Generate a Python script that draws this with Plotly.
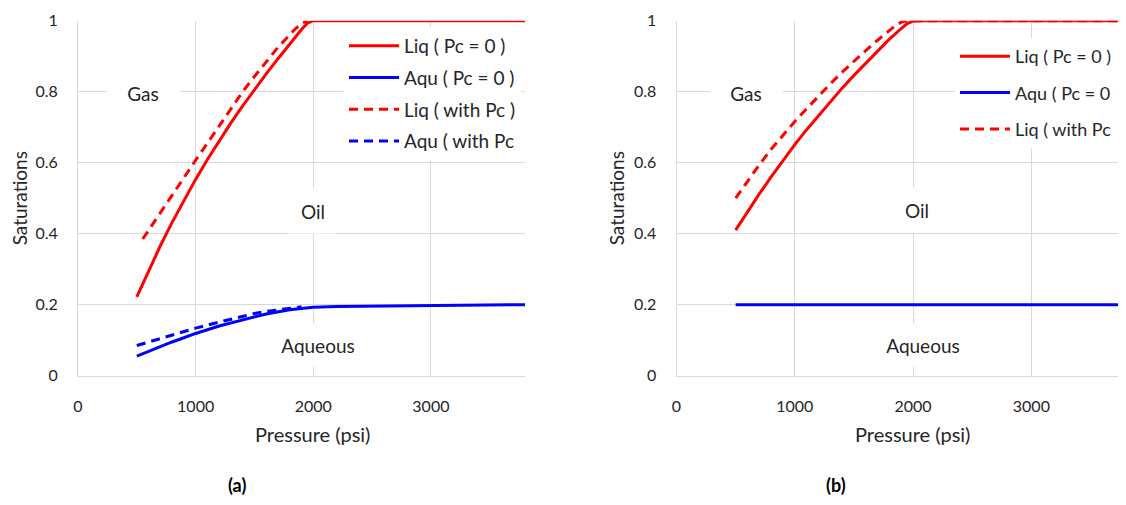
import plotly.graph_objects as go

# ---------------- data ----------------
# Panel (a)
p_liq_a = [500, 600, 700, 800, 900, 1000, 1100, 1200, 1300, 1400, 1500, 1600, 1700, 1800, 1900, 1950, 2000, 2100, 2500, 3000, 3500, 3800]
s_liq_a = [0.222, 0.296, 0.366, 0.432, 0.494, 0.553, 0.609, 0.662, 0.712, 0.760, 0.806, 0.850, 0.893, 0.935, 0.975, 0.993, 1.0, 1.0, 1.0, 1.0, 1.0, 1.0]

p_aqu_a = [500, 600, 700, 800, 900, 1000, 1200, 1400, 1500, 1600, 1800, 2000, 2200, 2500, 3000, 3500, 3800]
s_aqu_a = [0.055, 0.069, 0.082, 0.095, 0.107, 0.119, 0.140, 0.158, 0.166, 0.174, 0.186, 0.193, 0.195, 0.196, 0.198, 0.199, 0.2]

p_liqpc_a = [550, 600, 700, 800, 900, 1000, 1100, 1200, 1300, 1400, 1500, 1600, 1700, 1800, 1850, 1900, 1950]
s_liqpc_a = [0.385, 0.41, 0.46, 0.51, 0.56, 0.607, 0.655, 0.703, 0.752, 0.80, 0.843, 0.885, 0.925, 0.96, 0.978, 0.992, 1.0]

p_aqupc_a = [500, 600, 700, 800, 900, 1000, 1200, 1400, 1500, 1600, 1800, 1900]
s_aqupc_a = [0.085, 0.095, 0.105, 0.115, 0.124, 0.134, 0.151, 0.168, 0.175, 0.181, 0.191, 0.194]

# Panel (b)
p_liq_b = [500, 600, 700, 800, 900, 1000, 1100, 1200, 1300, 1400, 1500, 1600, 1700, 1800, 1900, 1950, 2000, 2100, 2500, 3000, 3500, 3800]
s_liq_b = [0.41, 0.462, 0.512, 0.56, 0.607, 0.651, 0.693, 0.733, 0.772, 0.81, 0.846, 0.881, 0.915, 0.948, 0.978, 0.992, 0.999, 1.0, 1.0, 1.0, 1.0, 1.0]

p_aqu_b = [500, 1000, 2000, 3000, 3800]
s_aqu_b = [0.2, 0.2, 0.2, 0.2, 0.2]

p_liqpc_b = [500, 600, 700, 800, 900, 1000, 1100, 1200, 1300, 1400, 1500, 1600, 1700, 1800, 1850, 1900, 1950, 2000, 2500, 3000, 3500, 3800]
s_liqpc_b = [0.500, 0.548, 0.594, 0.638, 0.678, 0.716, 0.752, 0.788, 0.822, 0.855, 0.886, 0.916, 0.945, 0.973, 0.986, 0.996, 1.0, 1.0, 1.0, 1.0, 1.0, 1.0]

names_a = ["Liq ( Pc = 0 )", "Aqu ( Pc = 0 )", "Liq ( with Pc )", "Aqu ( with Pc"]
names_b = ["Liq ( Pc = 0 )", "Aqu ( Pc = 0", "Liq ( with Pc"]

x_ticks = [0, 1000, 2000, 3000]
y_ticks = [0, 0.2, 0.4, 0.6, 0.8, 1.0]
y_ticklabels = ["0", "0.2", "0.4", "0.6", "0.8", "1"]

# ---------------- style ----------------
RED = "#FF0000"
BLUE = "#0000FF"
LW = 3
DASH = "9px,6px"
FONT = "Lato"
TXT = "#262626"
GRID = "#d9d9d9"

fig = go.Figure()

def add(x, y, name, color, dash, xa, ya, legend):
    fig.add_trace(go.Scatter(
        x=x, y=y, name=name, mode="lines",
        line=dict(color=color, width=LW, dash=dash),
        xaxis=xa, yaxis=ya, legend=legend, legendgroup=legend + name,
    ))

add(p_liq_a, s_liq_a, names_a[0], RED, "solid", "x", "y", "legend")
add(p_aqu_a, s_aqu_a, names_a[1], BLUE, "solid", "x", "y", "legend")
add(p_liqpc_a, s_liqpc_a, names_a[2], RED, DASH, "x", "y", "legend")
add(p_aqupc_a, s_aqupc_a, names_a[3], BLUE, DASH, "x", "y", "legend")

add(p_liq_b, s_liq_b, names_b[0], RED, "solid", "x2", "y2", "legend2")
add(p_aqu_b, s_aqu_b, names_b[1], BLUE, "solid", "x2", "y2", "legend2")
add(p_liqpc_b, s_liqpc_b, names_b[2], RED, DASH, "x2", "y2", "legend2")

# page has an 8px body margin: figure is sized so the page is exactly 1126x505
OFF = 8
W, H = 1126 - 2 * OFF, 505 - 2 * OFF

def px(x):
    return (x - OFF) / W

def py(y):
    return 1 - (y - OFF) / H

def xdom(l, r):
    return [px(l), min(1.0, px(r))]

def ydom(top, bottom):
    return [py(bottom), py(top)]

def xcommon(xmax):
    return dict(
        range=[0, xmax], tickvals=x_ticks, showgrid=True, gridcolor=GRID, gridwidth=1,
        showline=True, linecolor=GRID, linewidth=1, zeroline=False, automargin=False,
        ticks="outside", ticklen=16, tickcolor="rgba(0,0,0,0)",
        tickfont=dict(family=FONT, size=16, color=TXT),
        fixedrange=True,
    )

ycommon = dict(
    range=[0, 1], tickvals=y_ticks, ticktext=y_ticklabels, showgrid=True, gridcolor=GRID, gridwidth=1,
    showline=True, linecolor=GRID, linewidth=1, zeroline=False, automargin=False,
    ticks="outside", ticklen=16, tickcolor="rgba(0,0,0,0)",
    tickfont=dict(family=FONT, size=16, color=TXT),
    title=dict(text="Saturations", font=dict(family=FONT, size=19, color=TXT), standoff=4),
    fixedrange=True,
)

fig.update_layout(
    width=W, height=H,
    margin=dict(l=0, r=0, t=0, b=0, autoexpand=False),
    paper_bgcolor="white", plot_bgcolor="white",
    font=dict(family=FONT, color=TXT),
    xaxis=dict(domain=xdom(78, 525), anchor="y", **xcommon(3800)),
    yaxis=dict(domain=ydom(20.7, 375.7), anchor="x", **ycommon),
    xaxis2=dict(domain=xdom(676.5, 1126), anchor="y2", **xcommon(3800 - 8 / 118.4 * 1000)),
    yaxis2=dict(domain=ydom(20.7, 375.7), anchor="x2", **ycommon),
    legend=dict(x=px(344), y=py(27), xanchor="left", yanchor="top",
                bgcolor="white", borderwidth=0, font=dict(family=FONT, size=19, color=TXT),
                traceorder="grouped", tracegroupgap=4, itemwidth=50),
    legend2=dict(x=px(955), y=py(38), xanchor="left", yanchor="top",
                 bgcolor="white", borderwidth=0, font=dict(family=FONT, size=18, color=TXT),
                 traceorder="grouped", tracegroupgap=10, itemwidth=50),
    showlegend=True,
)

def label(text, x, y, xref, yref, w, h):
    fig.add_annotation(text=text, x=x, y=y, xref=xref, yref=yref, showarrow=False,
                       font=dict(family=FONT, size=19, color=TXT), bgcolor="white",
                       width=w, height=h, xanchor="center", yanchor="middle")

label("Gas", 555, 0.795, "x", "y", 70, 40)
label("Oil", 2000, 0.465, "x", "y", 44, 42)
label("Aqueous", 2040, 0.087, "x", "y", 90, 40)
label("Gas", 590, 0.797, "x2", "y2", 70, 40)
label("Oil", 2035, 0.466, "x2", "y2", 44, 42)
label("Aqueous", 2086, 0.0877, "x2", "y2", 90, 40)

# x-axis titles (placed as in the reference, slightly right of the plot centre)
for cx in (312, 912):
    fig.add_annotation(text="Pressure (psi)", x=px(cx), y=py(434), xref="paper", yref="paper",
                       xanchor="center", yanchor="middle", showarrow=False,
                       font=dict(family=FONT, size=20, color=TXT))

fig.add_annotation(text="<b>(a)</b>", x=px(237), y=py(485), xref="paper", yref="paper",
                   xanchor="center", yanchor="middle",
                   showarrow=False, font=dict(family=FONT, size=18, color="#000000"))
fig.add_annotation(text="<b>(b)</b>", x=px(836), y=py(485), xref="paper", yref="paper",
                   xanchor="center", yanchor="middle",
                   showarrow=False, font=dict(family=FONT, size=18, color="#000000"))

fig.write_html("out.html")
